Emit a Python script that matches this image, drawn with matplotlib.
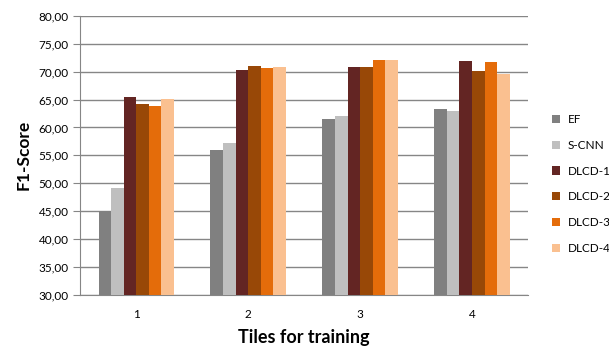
import matplotlib
matplotlib.use("Agg")
import matplotlib.pyplot as plt
import numpy as np

plt.rcParams['font.family'] = ['Lato', 'DejaVu Sans']

tiles = ["1", "2", "3", "4"]
series_names = ["EF", "S-CNN", "DLCD-1", "DLCD-2", "DLCD-3", "DLCD-4"]
ef = [45.0, 56.0, 61.6, 63.3]
scnn = [49.2, 57.3, 62.1, 62.9]
dlcd1 = [65.5, 70.4, 70.8, 71.9]
dlcd2 = [64.2, 71.0, 70.8, 70.2]
dlcd3 = [63.9, 70.6, 72.1, 71.7]
dlcd4 = [65.1, 70.8, 72.1, 69.6]
colors = ["#808080", "#BFBFBF", "#632523", "#984807", "#E46C0A", "#FAC090"]

all_series = [ef, scnn, dlcd1, dlcd2, dlcd3, dlcd4]

fig = plt.figure(figsize=(6.09, 3.47), dpi=100)
ax = fig.add_axes([0.1314, 0.1507, 0.7356, 0.8032])

x = np.arange(len(tiles))
w = 0.67 / 6
for i, (vals, name, c) in enumerate(zip(all_series, series_names, colors)):
    ax.bar(x + (i - 2.5) * w, vals, w, color=c, label=name, zorder=3)

ax.set_xlim(-0.5, 3.5)
ax.set_ylim(30, 80)
yt = np.arange(30, 81, 5)
ax.set_yticks(yt)
ax.set_yticklabels([("%.2f" % v).replace(".", ",") for v in yt])
ax.set_xticks(x)
ax.set_xticklabels(tiles)
ax.grid(axis="y", color="#868686", linewidth=1, zorder=0)
for s in ["top", "right"]:
    ax.spines[s].set_visible(False)
ax.spines["left"].set_color("#868686")
ax.spines["bottom"].set_color("#868686")
ax.tick_params(axis="y", color="#868686", length=5, labelsize=8.5, pad=3)
ax.tick_params(axis="x", length=0, labelsize=8.5, pad=10)

ax.set_ylabel("F1-Score", fontsize=12.5, fontweight="bold", labelpad=5)
ax.set_xlabel("Tiles for training", fontsize=13, fontweight="bold", labelpad=7)

ax.legend(loc="center left", bbox_to_anchor=(1.03, 0.397), frameon=False,
          fontsize=8.5, handlelength=0.7, handleheight=0.7, labelspacing=1.25,
          handletextpad=0.6)

fig.savefig("out.png", dpi=100)
